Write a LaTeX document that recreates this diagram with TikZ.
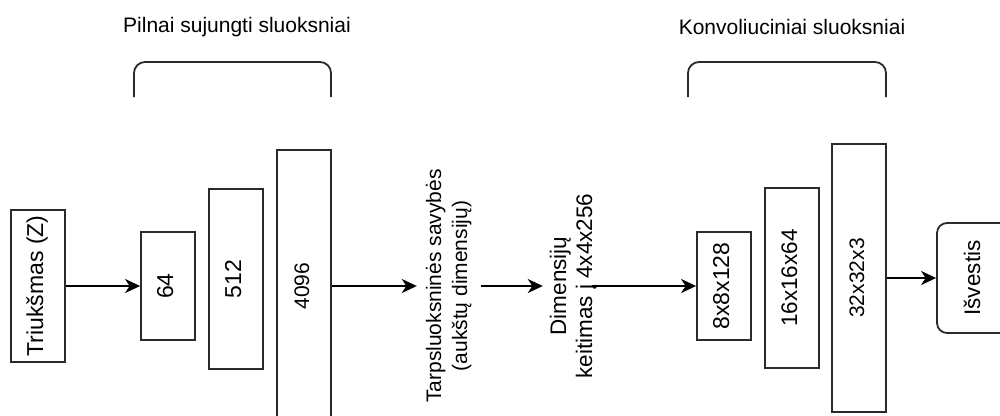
\documentclass[tikz,border=0pt]{standalone}
\usepackage{fontspec}
\setmainfont{Liberation Sans}
\usetikzlibrary{arrows.meta}
\definecolor{stroke}{HTML}{2B2B2B}
\newcommand{\vtext}[1]{\rotatebox{90}{\begin{tabular}{@{}c@{}}#1\end{tabular}}}
\newcommand{\fs}[1]{\fontsize{#1}{26}\selectfont}
\tikzset{
  layer/.style={draw=stroke, line width=1.8pt, fill=white, inner sep=0pt,
    font=\fs{23}},
  caption/.style={inner sep=0pt, font=\fs{21}},
  flow/.style={draw=black, line width=1.8pt,
    -{Stealth[length=15pt,width=14pt,inset=4.5pt]}},
  brace/.style={draw=stroke, line width=1.8pt, rounded corners=11pt},
}
\begin{document}
\begin{tikzpicture}[x=1pt,y=-1pt]
\clip (0,0) rectangle (1000,415);
\fill[white] (0,0) rectangle (1000,415);

% group captions and brackets
\node[caption] (fc) at (237,27) {Pilnai sujungti sluoksniai};
\node[caption] (cv) at (792,27) {Konvoliuciniai sluoksniai};
\draw[brace] (134,97) -- (134,62) -- (331,62) -- (331,97);
\draw[brace] (688,97) -- (688,62) -- (886,62) -- (886,97);

% input
\node[layer, minimum width=54, minimum height=152] (z) at (38,286) {\vtext{Triukšmas (Z)}};

% fully connected layers
\node[layer, minimum width=54, minimum height=108] (f1) at (168,286) {\vtext{64}};
\node[layer, minimum width=54, minimum height=180] (f2) at (236,279) {\vtext{512}};
\node[layer, font=\fs{21}, minimum width=54, minimum height=272] (f3) at (304,286) {\vtext{4096}};

% intermediate steps
\node[caption, inner xsep=6pt] (feat) at (449,286) {\vtext{Tarpsluoksninės savybės\\(aukštų dimensijų)}};
\node[caption, font=\fs{22.5}, inner xsep=5pt] (resh) at (574,286) {\vtext{Dimensijų\\keitimas į 4x4x256}};

% convolutional layers
\node[layer, minimum width=54, minimum height=108] (c1) at (724,286) {\vtext{8x8x128}};
\node[layer, font=\fs{22.5}, minimum width=54, minimum height=180] (c2) at (792,278) {\vtext{16x16x64}};
\node[layer, font=\fs{21}, minimum width=54, minimum height=268] (c3) at (859,278) {\vtext{32x32x3}};

% output
\node[layer, font=\fs{22.5}, rounded corners=10pt, minimum width=76, minimum height=110] (out) at (975,278) {\vtext{Išvestis}};

% connectors
\draw[flow] (z.east |- f1.west) -- (f1.west);
\draw[flow] (f3.east |- feat.west) -- (feat.west);
\draw[flow] (feat.east) -- (resh.west);
\draw[flow, shorten <=-13pt] (resh.east) -- (resh.east -| c1.west);
\draw[flow] (c3.east |- out.west) -- (out.west);
\end{tikzpicture}
\end{document}
